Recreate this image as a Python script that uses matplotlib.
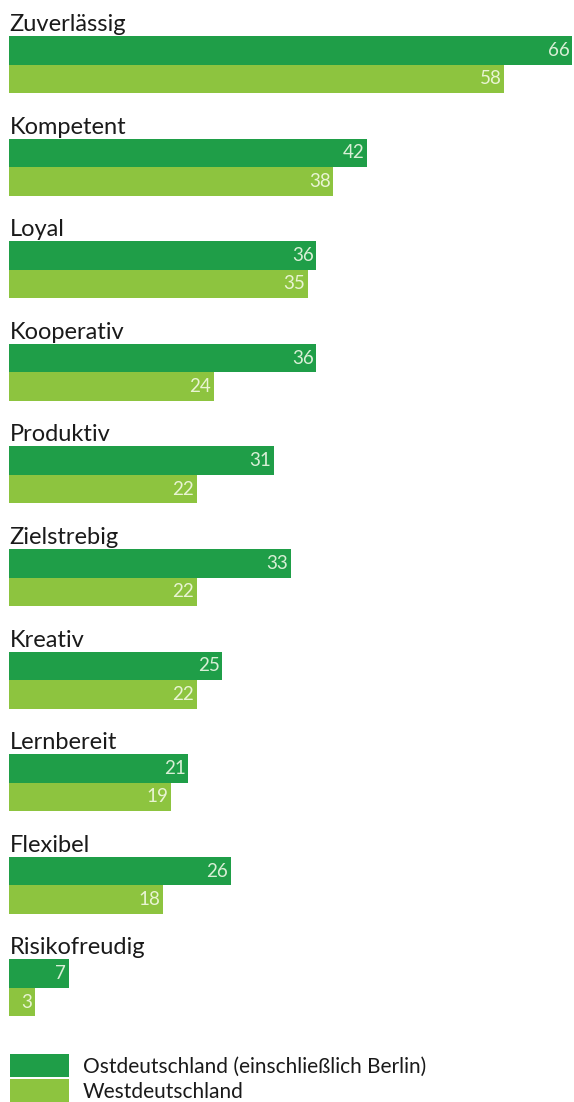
import matplotlib.pyplot as plt
from matplotlib.patches import Patch

categories = ["Zuverlässig", "Kompetent", "Loyal", "Kooperativ", "Produktiv",
              "Zielstrebig", "Kreativ", "Lernbereit", "Flexibel", "Risikofreudig"]
ost = [66, 42, 36, 36, 31, 33, 25, 21, 26, 7]
west = [58, 38, 35, 24, 22, 22, 22, 19, 18, 3]
series_names = ["Ostdeutschland (einschließlich Berlin)", "Westdeutschland"]

DARK = "#1f9e48"
LIGHT = "#8dc43f"
plt.rcParams['font.family'] = ['Lato', 'DejaVu Sans']

W, H = 574, 1102
fig = plt.figure(figsize=(W / 100, H / 100), dpi=100)
# axes spans the whole height; one y unit = one category group
ax = fig.add_axes([9 / W, 0, 564 / W, 1])
pitch = 102.6
ax.set_xlim(0, 66.1)
ax.set_ylim(H / pitch, 0)
ax.axis("off")

bar_h = 28.5 / pitch
top0 = 36 / pitch
for i, (cat, o, w) in enumerate(zip(categories, ost, west)):
    y_o = top0 + i + bar_h / 2
    y_w = y_o + bar_h
    ax.barh(y_o, o, height=bar_h, color=DARK, linewidth=0)
    ax.barh(y_w, w, height=bar_h, color=LIGHT, linewidth=0)
    ax.text(0.05, top0 + i - 5 / pitch, cat, fontsize=17, color="#1a1a1a",
            ha="left", va="baseline")
    ax.text(o - 0.3, y_o, str(o), fontsize=13.5, color="#d9efd6",
            ha="right", va="center")
    ax.text(w - 0.3, y_w, str(w), fontsize=13.5, color="#e9f4d3",
            ha="right", va="center")

handles = [Patch(facecolor=DARK, edgecolor="none"),
           Patch(facecolor=LIGHT, edgecolor="none")]
fig.legend(handles, series_names, loc="lower left",
           bbox_to_anchor=(10 / W, -1 / H), frameon=False, fontsize=15,
           handlelength=2.84, handleheight=1.36, handletextpad=0.67,
           labelspacing=0.1, borderpad=0, borderaxespad=0,
           labelcolor="#1a1a1a")

fig.savefig("out.png", dpi=100)
